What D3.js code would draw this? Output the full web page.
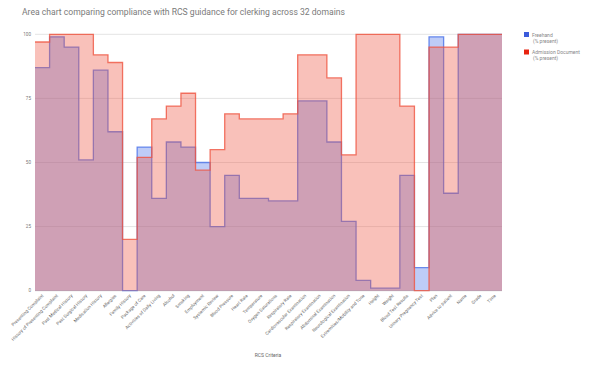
<!DOCTYPE html>
<html>
<head>
<meta charset="utf-8">
<script src="https://cdn.jsdelivr.net/npm/d3@7"></script>
<style>
  body { margin: 0; background: #fff; }
  text { font-family: Roboto, "Noto Sans", sans-serif; }
</style>
</head>
<body>
<div id="chart"></div>
<script>
// categories (RCS criteria)
var criteria = [
  "Presenting Complaint", "History of Presenting Complaint", "Past Medical History",
  "Past Surgical History", "Medication History", "Allergies", "Family History",
  "Package of Care", "Activities of Daily Living", "Alcohol", "Smoking", "Employment",
  "Systemic Review", "Blood Pressure", "Heart Rate", "Temperature", "Oxygen Saturations",
  "Respiratory Rate", "Cardiovascular Examination", "Respiratory Examination",
  "Abdominal Examination", "Neurological Examination", "Extremities/Mobility and Tone",
  "Height", "Weight", "Blood Test Results", "Urinary Pregnancy Test", "Plan",
  "Advice to patient", "Name", "Grade", "Time"
];

// % present
var freehand = [87, 99, 95, 51, 86, 62, 0, 56, 36, 58, 56, 50, 25, 45, 36, 36,
                35, 35, 74, 74, 58, 27, 4, 1, 1, 45, 9, 99, 38, 100, 100, 100];
var admission = [97, 100, 100, 100, 92, 89, 20, 52, 67, 72, 77, 47, 55, 69, 67, 67,
                 67, 69, 92, 92, 83, 53, 100, 100, 100, 72, 0, 95, 95, 100, 100, 100];

var yTicks = [0, 25, 50, 75, 100];

var series = [
  { name: "Freehand", values: freehand, color: "#4a72e8", key: "#3b5bdb" },
  { name: "Admission Document", values: admission, color: "#ef5440", key: "#e8230f" }
];

var W = 591, H = 368;
var margin = { left: 35, right: 502, top: 34.3, bottom: 290.7 };

var svg = d3.select("#chart").append("svg")
    .attr("width", W)
    .attr("height", H);

// title
svg.append("text")
    .attr("x", 22)
    .attr("y", 15)
    .attr("font-size", "8.6px")
    .attr("fill", "#7a7a7a")
    .text("Area chart comparing compliance with RCS guidance for clerking across 32 domains");

var x = d3.scaleBand()
    .domain(criteria)
    .range([margin.left, margin.right])
    .paddingInner(0)
    .paddingOuter(0);

var y = d3.scaleLinear()
    .domain([0, 100])
    .range([margin.bottom, margin.top]);

// gridlines + y labels
svg.append("g").selectAll("line")
    .data(yTicks)
    .enter().append("line")
    .attr("x1", margin.left)
    .attr("x2", margin.right)
    .attr("y1", function (d) { return y(d); })
    .attr("y2", function (d) { return y(d); })
    .attr("stroke", function (d) { return d === 0 ? "#cccccc" : "#e4e4e4"; })
    .attr("stroke-width", 1);

svg.append("g").selectAll("text")
    .data(yTicks)
    .enter().append("text")
    .attr("x", 31)
    .attr("y", function (d) { return y(d) + 1.6; })
    .attr("text-anchor", "end")
    .attr("font-size", "4.6px")
    .attr("fill", "#777")
    .text(function (d) { return d; });

// build step points from the data through the scales
function stepPoints(values) {
  var pts = [];
  criteria.forEach(function (c, i) {
    pts.push([x(c), values[i]]);
    pts.push([x(c) + x.bandwidth(), values[i]]);
  });
  return pts;
}

var area = d3.area()
    .x(function (d) { return d[0]; })
    .y0(y(0))
    .y1(function (d) { return y(d[1]); });

var line = d3.line()
    .x(function (d) { return d[0]; })
    .y(function (d) { return y(d[1]); });

series.forEach(function (s) {
  var pts = stepPoints(s.values);
  svg.append("path")
      .attr("d", area(pts))
      .attr("fill", s.color)
      .attr("fill-opacity", 0.36);
  svg.append("path")
      .attr("d", line(pts))
      .attr("fill", "none")
      .attr("stroke", s.color)
      .attr("stroke-opacity", 0.8)
      .attr("stroke-width", 1.3);
});

// x labels
svg.append("g").selectAll("text")
    .data(criteria)
    .enter().append("text")
    .attr("transform", function (d) {
      return "translate(" + (x(d) + x.bandwidth() / 2 + 1.5) + ",296)rotate(-45)";
    })
    .attr("text-anchor", "end")
    .attr("font-size", "4.5px")
    .attr("fill", "#666")
    .text(function (d) { return d; });

// axis title
svg.append("text")
    .attr("x", 268)
    .attr("y", 357)
    .attr("text-anchor", "middle")
    .attr("font-size", "5px")
    .attr("fill", "#666")
    .text("RCS Criteria");

// legend
var legend = svg.append("g").selectAll("g")
    .data(series)
    .enter().append("g")
    .attr("transform", function (d, i) { return "translate(524," + (32 + i * 17.5) + ")"; });

legend.append("rect")
    .attr("width", 5)
    .attr("height", 5)
    .attr("fill", function (d) { return d.key; });

legend.append("text")
    .attr("x", 8)
    .attr("y", 4.5)
    .attr("font-size", "5px")
    .attr("fill", "#888")
    .text(function (d) { return d.name; });

legend.append("text")
    .attr("x", 9)
    .attr("y", 10.5)
    .attr("font-size", "5px")
    .attr("fill", "#888")
    .text("(% present)");
</script>
</body>
</html>
